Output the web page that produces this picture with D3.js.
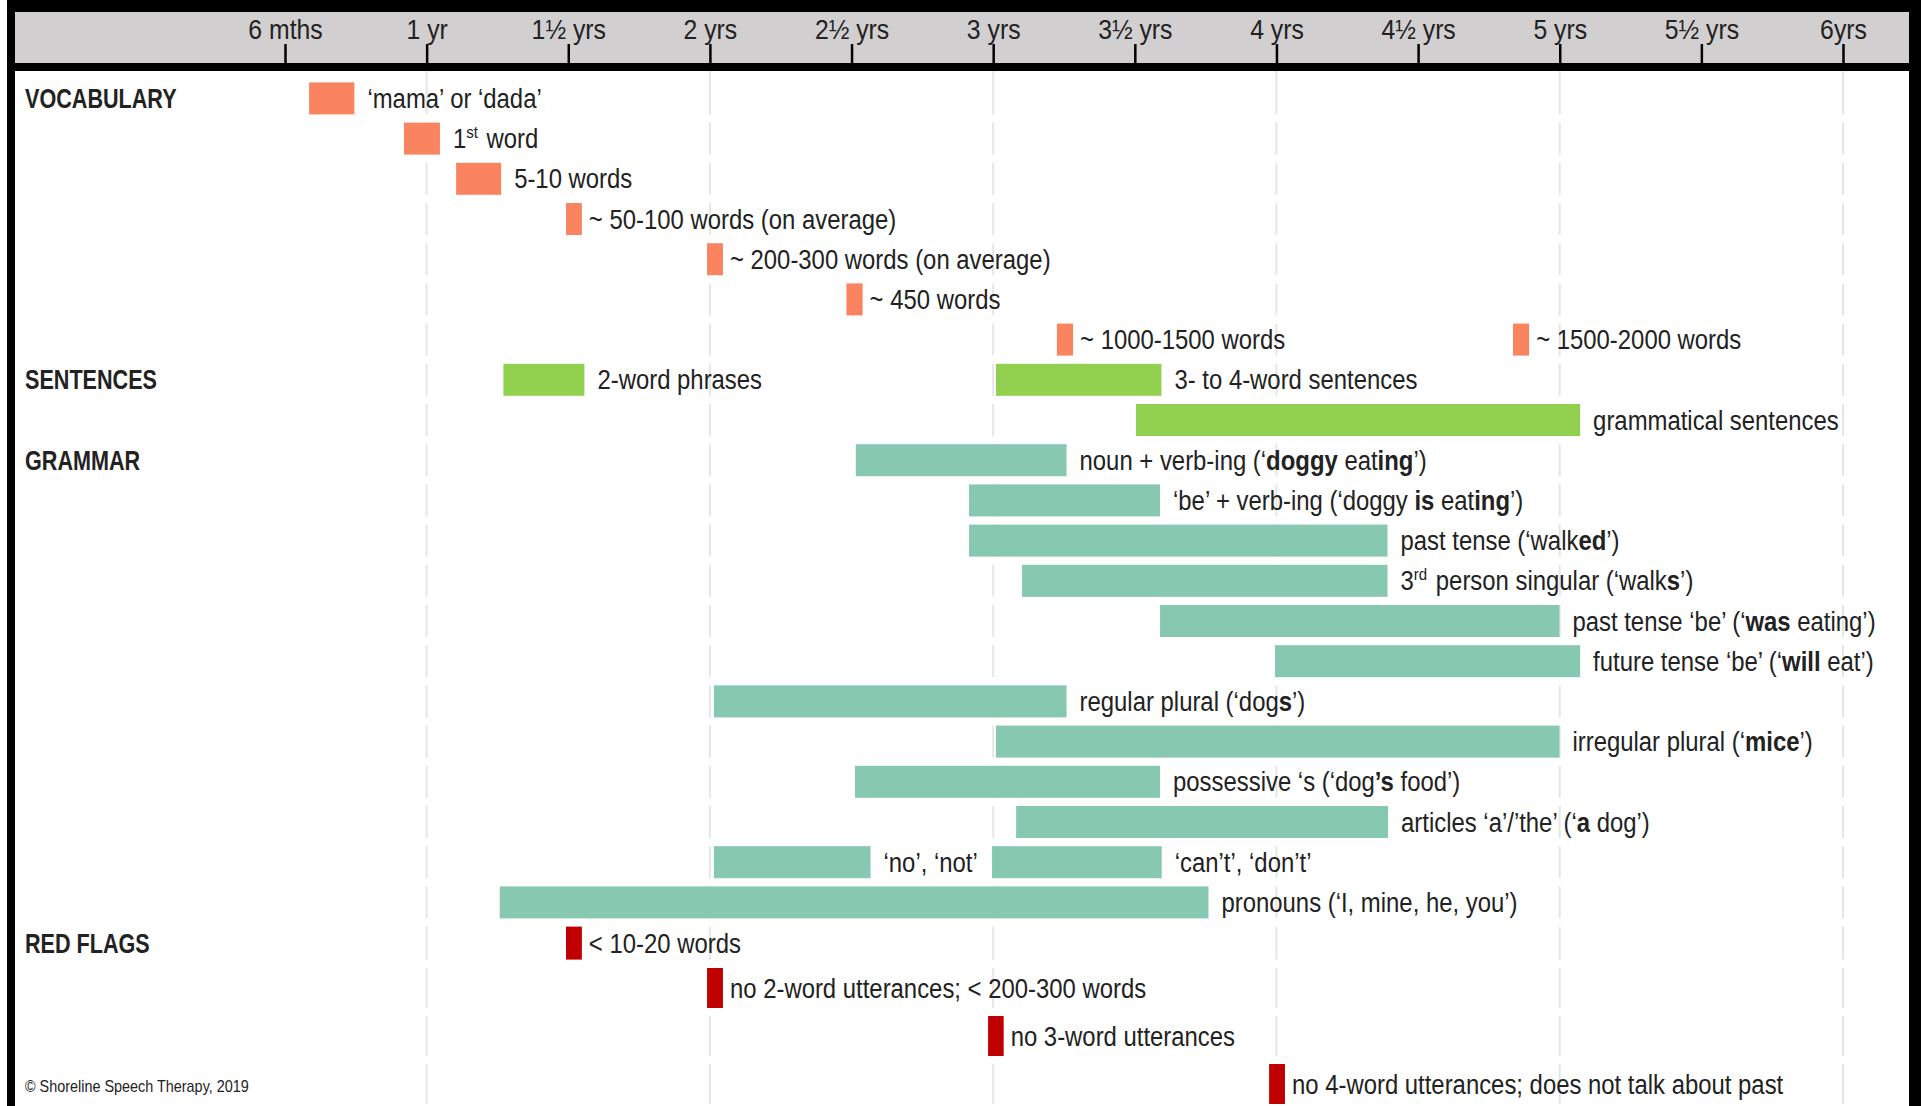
<!DOCTYPE html>
<html>
<head>
<meta charset="utf-8" />
<title>Speech and language milestones</title>
<style>
body { margin: 0; background: #fff; }
#graph { width: 1921px; height: 1106px; }
svg text { font-family: 'Liberation Sans', Arial, sans-serif; fill: #222; }
</style>
</head>
<body>
<div id="graph"></div>

<script src="https://cdnjs.cloudflare.com/ajax/libs/d3/7.8.5/d3.min.js"></script>
<script>
!(function(){
    "use strict"

    // ages on the top axis (years)
    var ages = [0.5, 1, 1.5, 2, 2.5, 3, 3.5, 4, 4.5, 5, 5.5, 6]
    var ageLabels = ["6 mths", "1 yr", "1½ yrs", "2 yrs", "2½ yrs", "3 yrs", "3½ yrs", "4 yrs", "4½ yrs", "5 yrs", "5½ yrs", "6yrs"]
    var gridAges = [1, 2, 3, 4, 5, 6]

    var categoryNames = ["VOCABULARY", "SENTENCES", "GRAMMAR", "RED FLAGS"]
    var categoryRows = [0, 7, 9, 21]

    // [row, start age, end age, label]   **bold**  ^superscript^
    var vocabulary = [
        [0, 0.585, 0.745, "‘mama’ or ‘dada’"],
        [1, 0.92, 1.047, "1^st^ word"],
        [2, 1.104, 1.263, "5-10 words"],
        [3, 1.492, 1.548, "~ 50-100 words (on average)"],
        [4, 1.99, 2.046, "~ 200-300 words (on average)"],
        [5, 2.482, 2.539, "~ 450 words"],
        [6, 3.225, 3.282, "~ 1000-1500 words"],
        [6, 4.835, 4.892, "~ 1500-2000 words"]
    ]
    var sentences = [
        [7, 1.271, 1.557, "2-word phrases"],
        [7, 3.01, 3.594, "3- to 4-word sentences"],
        [8, 3.504, 5.072, "grammatical sentences"]
    ]
    var grammar = [
        [9, 2.515, 3.259, "noun + verb-ing (‘**doggy** eat**ing**’)"],
        [10, 2.915, 3.589, "‘be’ + verb-ing (‘doggy **is** eat**ing**’)"],
        [11, 2.915, 4.392, "past tense (‘walk**ed**’)"],
        [12, 3.102, 4.392, "3^rd^ person singular (‘walk**s**’)"],
        [13, 3.589, 4.999, "past tense ‘be’ (‘**was** eating’)"],
        [14, 3.995, 5.072, "future tense ‘be’ (‘**will** eat’)"],
        [15, 2.014, 3.259, "regular plural (‘dog**s**’)"],
        [16, 3.01, 4.999, "irregular plural (‘**mice**’)"],
        [17, 2.512, 3.589, "possessive ‘s (‘dog**’s** food’)"],
        [18, 3.081, 4.394, "articles ‘a’/’the’ (‘**a** dog’)"],
        [19, 2.014, 2.567, "‘no’, ‘not’"],
        [19, 2.996, 3.595, "‘can’t’, ‘don’t’"],
        [20, 1.258, 3.76, "pronouns (‘I, mine, he, you’)"]
    ]
    var redFlags = [
        [21, 1.492, 1.548, "< 10-20 words"],
        [22, 1.99, 2.046, "no 2-word utterances; < 200-300 words"],
        [23, 2.982, 3.037, "no 3-word utterances"],
        [24, 3.974, 4.03, "no 4-word utterances; does not talk about past"]
    ]
    var rowCount = 25

    var groups = [
        {items: vocabulary, color: "#fa845f"},
        {items: sentences, color: "#92d050"},
        {items: grammar, color: "#87c8b0"},
        {items: redFlags, color: "#c00000"}
    ]

    var width = 1921, height = 1106
    var headerTop = 12, headerBottom = 63, bandBottom = 71
    var squeeze = 0.885   // narrow typeface look

    var svg = d3.select("#graph").append("svg")
        .attr("width", width).attr("height", height)

    var xScale = d3.scaleLinear().domain([0.5, 6]).range([285, 1843])
    // regular rows, then the taller red-flag rows
    var rowScale = d3.scaleLinear().domain([0, 21]).range([82.4, 926.6])
    var flagScale = d3.scaleLinear().domain([22, 23]).range([968, 1016])

    function rowTop(r) { return r <= 21 ? rowScale(r) : flagScale(r) }
    function rowHeight(r) { return r < 21 ? 32 : (r == 21 ? 33 : 40) }
    function rowMid(r) { return rowTop(r) + rowHeight(r) / 2 }
    function place(x, y, s) { return "translate(" + [x, y] + ") scale(" + s + ",1)" }

    // frame + header
    svg.append("rect").attr("x", 7).attr("y", 0).attr("width", width - 7).attr("height", bandBottom).attr("fill", "#000")
    svg.append("rect").attr("x", 15).attr("y", headerTop).attr("width", 1909 - 15).attr("height", headerBottom - headerTop).attr("fill", "#d1cfd0")
    svg.append("rect").attr("x", 7).attr("y", 0).attr("width", 8).attr("height", height).attr("fill", "#000")
    svg.append("rect").attr("x", 1909).attr("y", 0).attr("width", 12).attr("height", height).attr("fill", "#000")

    // grid segments per row
    var gridLayer = svg.append("g").attr("class", "grid")
    d3.range(rowCount).forEach(function(r){
        var y0 = r == 0 ? bandBottom : rowTop(r)
        var y1 = rowTop(r) + rowHeight(r)
        gridLayer.selectAll(null).data(gridAges).enter().append("line")
            .attr("x1", function(d){ return xScale(d) }).attr("x2", function(d){ return xScale(d) })
            .attr("y1", y0).attr("y2", y1)
            .attr("stroke", "#e6e6e6").attr("stroke-width", 2)
    })

    // axis
    var xAxis = d3.axisTop(xScale)
        .tickValues(ages)
        .tickFormat(function(d, i){ return ageLabels[i] })
        .tickSize(19)
        .tickPadding(5)
    var axisG = svg.append("g").attr("class", "axis x")
        .attr("transform", "translate(0," + headerBottom + ")")
        .call(xAxis)
    axisG.select(".domain").remove()
    axisG.selectAll(".tick line").attr("stroke", "#000").attr("stroke-width", 2.5)
    axisG.selectAll(".tick text").attr("font-size", 28).attr("fill", "#2a2a2a")
        .attr("transform", "scale(" + squeeze + ",1)")
        .style("font-family", "'Liberation Sans', Arial, sans-serif")

    // category titles
    svg.append("g").selectAll("text").data(categoryNames).enter().append("text")
        .attr("transform", function(d, i){ return place(25, rowMid(categoryRows[i]) + 9.5, 0.8) })
        .attr("font-size", 27).attr("font-weight", "bold")
        .text(function(d){ return d })

    // rich label: **bold** and ^sup^
    function richText(sel, str) {
        var parts = str.split(/(\*\*.+?\*\*|\^.+?\^)/).filter(function(p){ return p.length })
        parts.forEach(function(p){
            if (p.indexOf("**") == 0) {
                sel.append("tspan").attr("font-weight", "bold").text(p.slice(2, -2))
            } else if (p.indexOf("^") == 0) {
                sel.append("tspan").attr("dy", -10).attr("font-size", 17).text(p.slice(1, -1))
                sel.append("tspan").attr("dy", 10).text("\u200a")
            } else {
                sel.append("tspan").text(p)
            }
        })
    }

    var chartLayer = svg.append("g").attr("class", "chartLayer")
    groups.forEach(function(g){
        var item = chartLayer.append("g").selectAll("g").data(g.items).enter().append("g")
        item.append("rect")
            .attr("x", function(d){ return xScale(d[1]) })
            .attr("y", function(d){ return rowTop(d[0]) })
            .attr("width", function(d){ return xScale(d[2]) - xScale(d[1]) })
            .attr("height", function(d){ return rowHeight(d[0]) })
            .attr("fill", g.color)
        item.append("text")
            .attr("transform", function(d){
                var w = xScale(d[2]) - xScale(d[1])
                return place(xScale(d[2]) + (w < 20 ? 7 : 13), rowMid(d[0]) + 9.5, squeeze)
            })
            .attr("font-size", 27)
            .each(function(d){ richText(d3.select(this), d[3]) })
    })

    svg.append("text").attr("transform", place(25, 1092, 0.9))
        .attr("font-size", 16).attr("fill", "#333")
        .text("© Shoreline Speech Therapy, 2019")

}());
</script>
</body>
</html>
